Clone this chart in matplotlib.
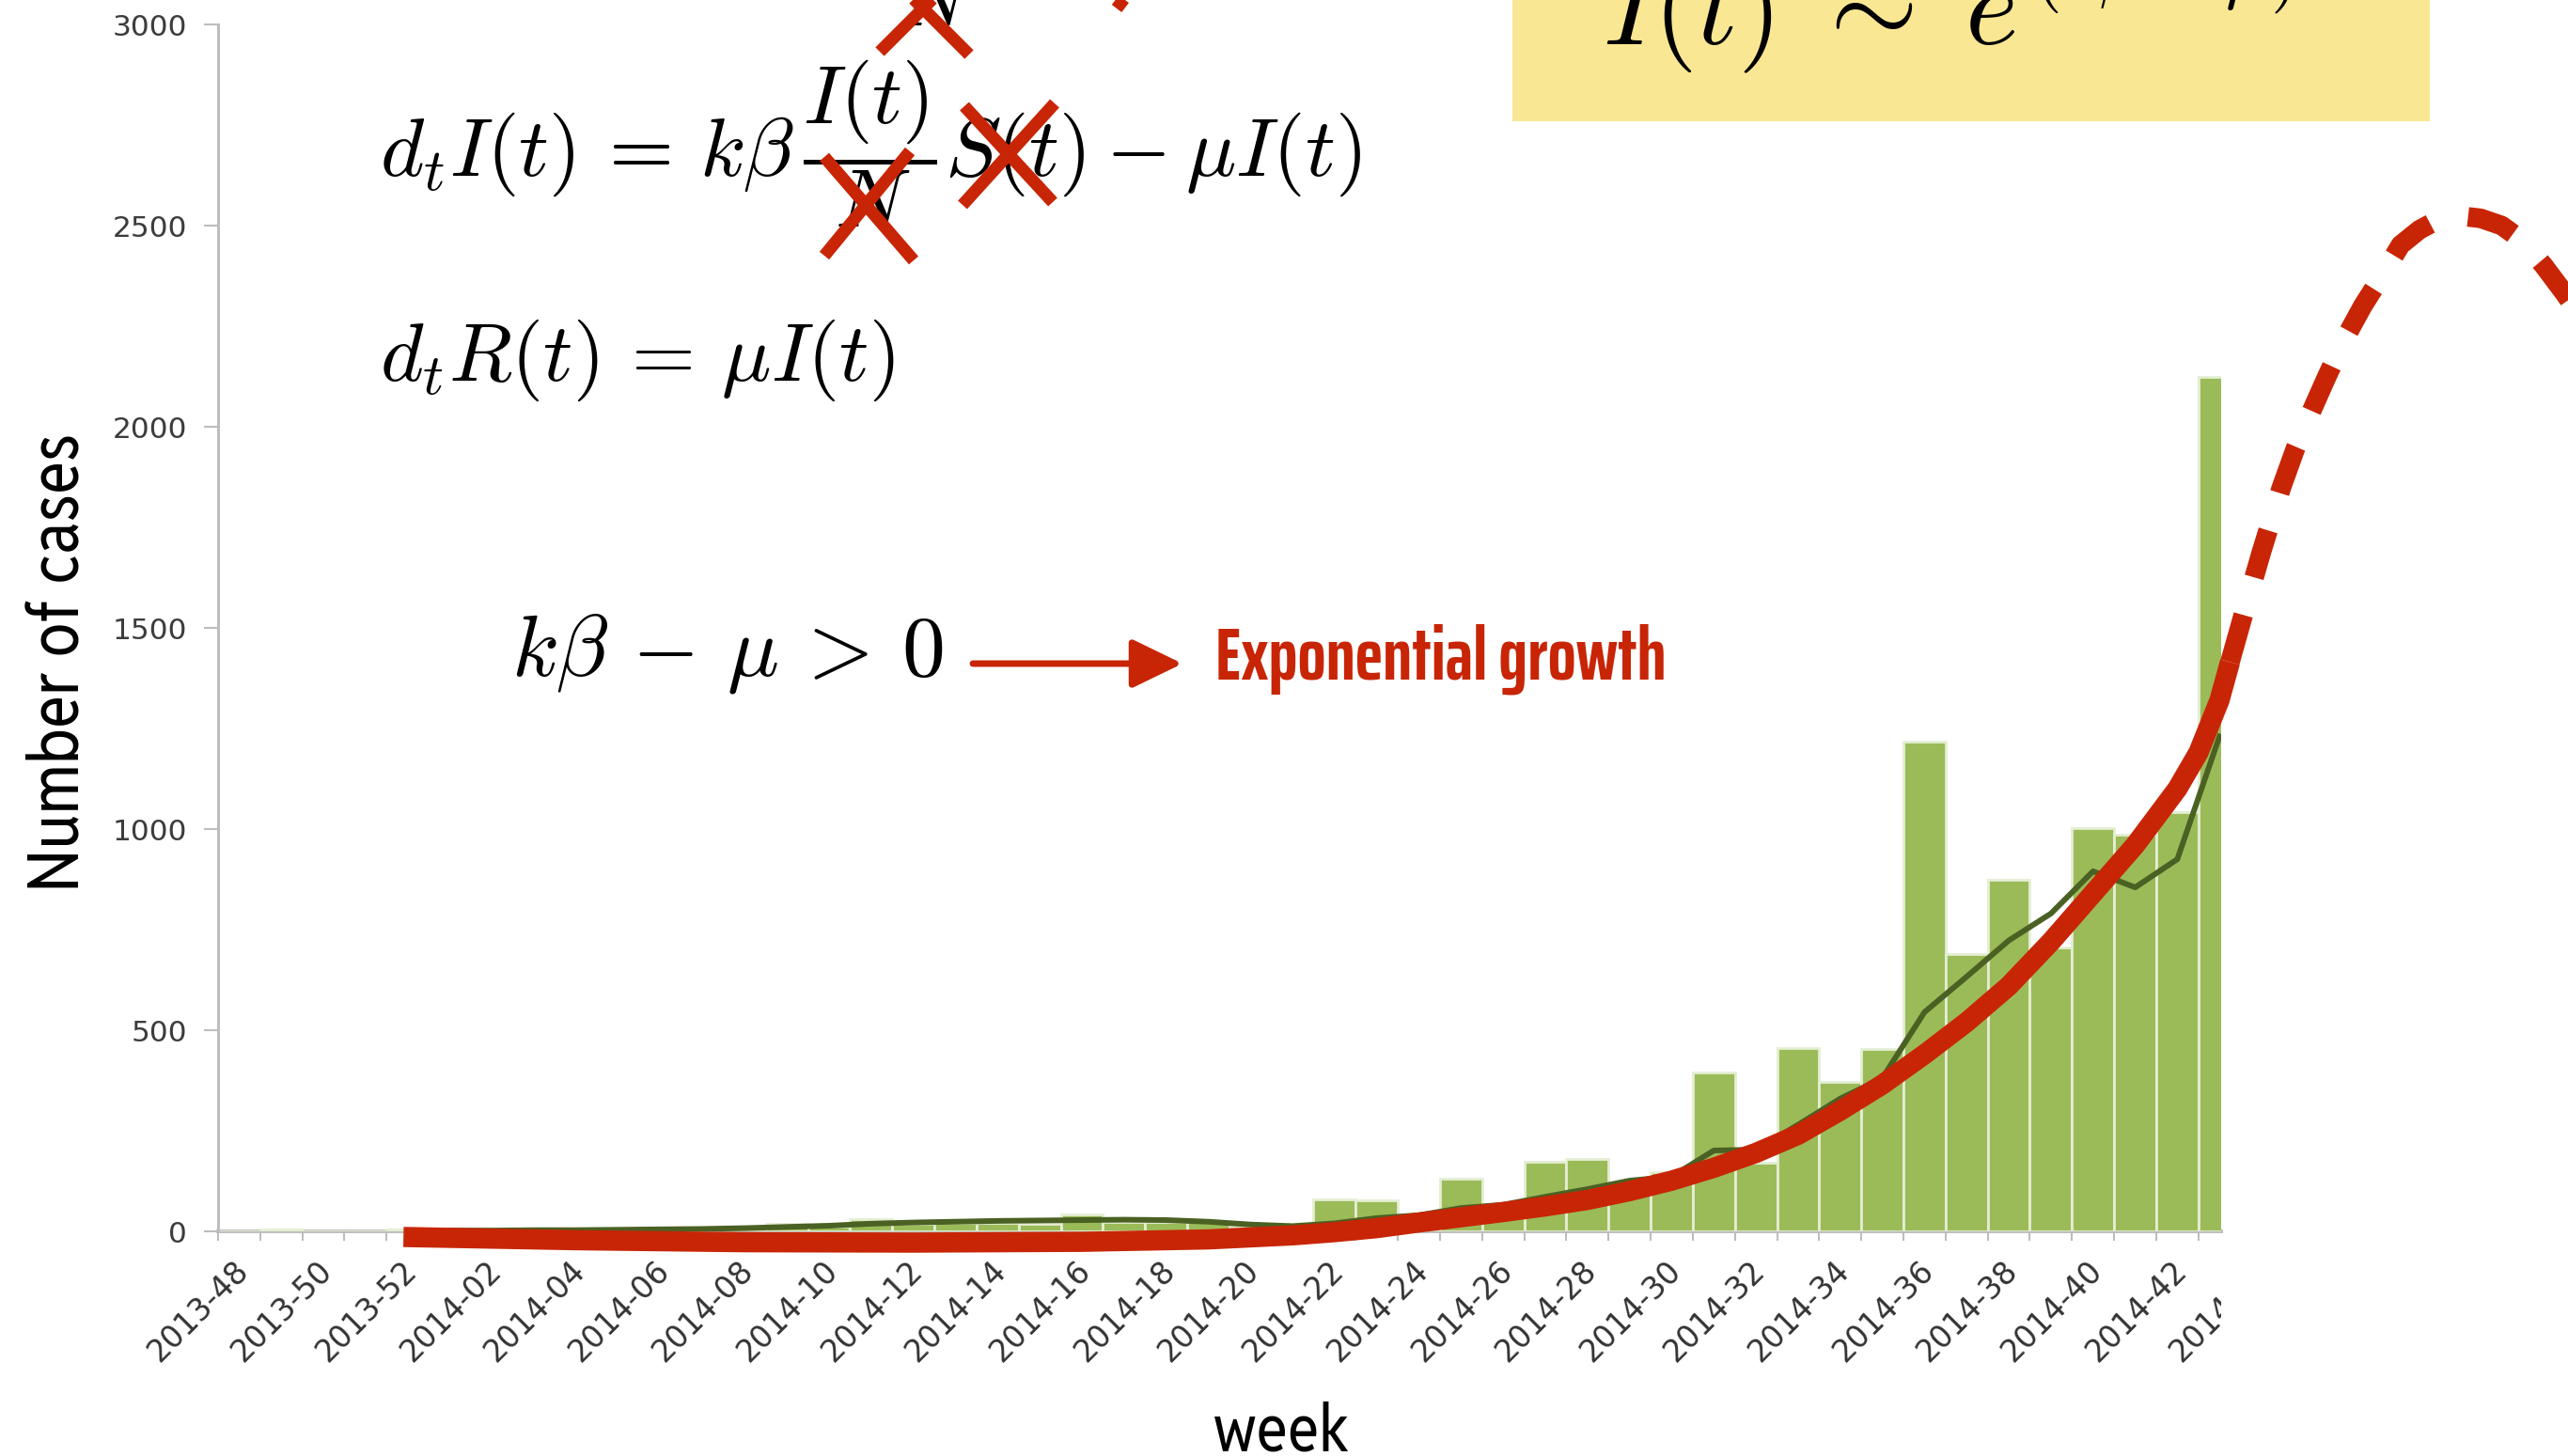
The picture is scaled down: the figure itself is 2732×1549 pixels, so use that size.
import os
import math
import numpy as np
import matplotlib
matplotlib.use("Agg")
import matplotlib.pyplot as plt
from matplotlib import font_manager as fm
from matplotlib.textpath import TextToPath
from matplotlib.lines import Line2D
from matplotlib.patches import Rectangle, FancyArrowPatch, ArrowStyle
from matplotlib.transforms import (Bbox, TransformedBbox, ScaledTranslation,
                                   blended_transform_factory)

plt.rcParams['mathtext.fontset'] = 'cm'
plt.rcParams['font.family'] = ['DejaVu Sans']

# ---------------------------------------------------------------- data
weeks = ['2013-48', '2013-49', '2013-50', '2013-51', '2013-52',
         '2014-01', '2014-02', '2014-03', '2014-04', '2014-05', '2014-06',
         '2014-07', '2014-08', '2014-09', '2014-10', '2014-11', '2014-12',
         '2014-13', '2014-14', '2014-15', '2014-16', '2014-17', '2014-18',
         '2014-19', '2014-20', '2014-21', '2014-22', '2014-23', '2014-24',
         '2014-25', '2014-26', '2014-27', '2014-28', '2014-29', '2014-30',
         '2014-31', '2014-32', '2014-33', '2014-34', '2014-35', '2014-36',
         '2014-37', '2014-38', '2014-39', '2014-40', '2014-41', '2014-42',
         '2014-43']

# weekly number of new cases
cases = [0, 5, 0, 0, 4,
         2, 3, 3, 4, 5, 6, 8, 10, 19, 12, 31, 18, 20, 22, 18, 42, 24, 24,
         24, 12, 14, 79, 78, 40, 130, 60, 174, 180, 100, 148, 395, 171, 455,
         371, 453, 1217, 690, 873, 706, 1002, 985, 1041, 2124]

# running average of the weekly counts
moving_avg = [np.nan, np.nan, np.nan, np.nan, np.nan,
              2, 2, 3, 3, 4, 5, 6, 8, 11, 14, 19, 22, 24, 26, 27, 28, 29, 28,
              24, 17, 13, 20, 33, 40, 58, 66, 86, 105, 126, 136, 201, 203, 265,
              330, 381, 545, 633, 723, 790, 895, 855, 925, 1230]

# week labels shown under the axis (every second week)
tick_labels = ['2013-48', '2013-50', '2013-52', '2014-02', '2014-04',
               '2014-06', '2014-08', '2014-10', '2014-12', '2014-14',
               '2014-16', '2014-18', '2014-20', '2014-22', '2014-24',
               '2014-26', '2014-28', '2014-30', '2014-32', '2014-34',
               '2014-36', '2014-38', '2014-40', '2014-42', '2014-44']

# exponential-growth sketch (week index, cases): solid part over the data
growth_x = [3.9, 8, 12, 16, 20, 23, 25, 26, 27, 28, 29, 30, 31, 32, 33, 34,
            35, 36, 37, 38, 39, 40, 41, 42, 43, 44, 45, 46, 46.5, 47, 47.25]
growth_y = [-14, -22, -27, -28, -26, -20, -10, -2, 8, 22, 35, 48, 62, 78, 100,
            126, 158, 195, 240, 300, 365, 440, 520, 610, 720, 840, 960, 1100,
            1190, 1320, 1415]

# dashed continuation: saturation and decline of the epidemic
future_x = [47.25, 47.6, 48.0, 48.46, 48.8, 49.16, 49.55, 49.94, 50.4, 50.9,
            51.3, 51.75, 52.2, 52.7, 53.2, 53.7, 54.2, 54.7, 55.2, 55.7]
future_y = [1415, 1545, 1690, 1846, 1945, 2033, 2125, 2212, 2300, 2383, 2452,
            2490, 2515, 2524, 2518, 2500, 2462, 2400, 2330, 2255]

# ---------------------------------------------------------------- style
RED = '#c82506'
BAR = '#9bbb59'
BAR_EDGE = '#e4eed3'
AVG = '#4a6123'
AXIS = '#bdbdbd'
YELLOW = '#f9e793'

_t2p = TextToPath()


def _ink(s, prop):
    p = prop.copy()
    p.set_size(100)
    w, h, d = _t2p.get_text_width_height_descent(s, p, ismath=False)
    return w, h


def pick_font(sample, target_w, target_h, hchar, bold):
    """Choose the installed sans face whose proportions best fit the
    given ink width / letter height, preferring narrow faces."""
    cands = [fm.FontProperties(family='DejaVu Sans',
                               weight='bold' if bold else 'normal')]
    seen = set()
    for f in fm.fontManager.ttflist:
        base = os.path.basename(f.fname).lower()
        key = (f.name + ' ' + base + ' ' + str(f.stretch)).lower()
        if not any(s in key for s in ('narrow', 'condensed')):
            continue
        if 'italic' in base or 'oblique' in base or f.style != 'normal':
            continue
        if 'mono' in key or 'serif' in key.replace('sans', ''):
            continue
        w = f.weight if isinstance(f.weight, (int, float)) else \
            {'bold': 700, 'normal': 400, 'regular': 400}.get(str(f.weight).lower(), 400)
        fat = w >= 600 or 'bold' in base
        if fat != bold or any(s in base for s in ('light', 'thin', 'medium',
                                                   'black', 'semibold',
                                                   'extrabold', 'demi')):
            continue
        if f.fname in seen:
            continue
        seen.add(f.fname)
        cands.append(fm.FontProperties(fname=f.fname))
    goal = target_w / target_h
    best, best_err = cands[0], 1e9
    for p in cands:
        try:
            w, _ = _ink(sample, p)
            _, h = _ink(hchar, p)
        except Exception:
            continue
        if w <= 0 or h <= 0:
            continue
        err = abs(math.log((w / h) / goal))
        if err < best_err:
            best, best_err = p, err
    return best


def size_for(sample, prop, target_w, target_h, hchar):
    w, _ = _ink(sample, prop)
    _, h = _ink(hchar, prop)
    s_w = 72.0 * target_w / w * 100 / 100
    s_h = 72.0 * target_h / h
    return math.sqrt(s_w * s_h)


W, H = 2732, 1549
fig = plt.figure(figsize=(W / 100, H / 100), dpi=100)
fig.patch.set_facecolor('white')


def fx(px):
    return px / W


def fy(py):
    return 1 - py / H


ax_left, ax_right = fx(232), fx(2363)
ax_bottom, ax_top = fy(1310), fy(26)
ax = fig.add_axes([ax_left, ax_bottom, ax_right - ax_left, ax_top - ax_bottom])
ax.set_facecolor('none')

x = np.arange(len(weeks))
ax.bar(x, cases, width=1.0, color=BAR, edgecolor=BAR_EDGE, linewidth=2.0,
       zorder=2)
ax.plot(x, moving_avg, color=AVG, lw=4.3, zorder=3, solid_joinstyle='round')

ax.plot(growth_x, growth_y, color=RED, lw=15.5, solid_capstyle='butt',
        zorder=5, clip_on=False)
dashed, = ax.plot(future_x, future_y, color=RED, lw=15, zorder=5,
                  clip_on=False)
dashed.set_dashes((2.5, 2.0))
dashed.set_dash_capstyle('butt')

ax.set_xlim(-0.5, 47.04)
ax.set_ylim(0, 3000)
for side in ('top', 'right'):
    ax.spines[side].set_visible(False)
ax.spines['left'].set_color(AXIS)
ax.spines['left'].set_linewidth(2.2)
ax.spines['bottom'].set_color(AXIS)
ax.spines['bottom'].set_linewidth(2.8)
ax.spines['bottom'].set_zorder(1)

ax.set_yticks(np.arange(0, 3001, 500))
ax.tick_params(axis='y', length=10.5, width=1.5, color=AXIS, pad=13,
               labelsize=22.5, labelcolor='#3c3c3c')
ax.set_xticks([])
ax.set_xticks(np.arange(-0.5, 47.0, 1), minor=True)
ax.tick_params(axis='x', which='minor', length=7.5, width=1.5, color=AXIS)

# rotated week labels, clipped at the right edge of the plot
clip = TransformedBbox(Bbox([[0, 0], [ax_right, 1]]), fig.transFigure)
label_tr = (blended_transform_factory(ax.transData, ax.transAxes)
            + ScaledTranslation(-0.07, -0.25, fig.dpi_scale_trans))
for i, lab in enumerate(tick_labels):
    t = ax.text(2 * i, 0, lab, transform=label_tr, rotation=45,
                rotation_mode='anchor', ha='right', va='top', fontsize=23.5,
                color='#333333', clip_on=True)
    t.set_clip_box(clip)

# axis titles in a narrow face
narrow = pick_font('Number of cases', 488, 53, 'N', bold=False)
fig.text(fx(85), fy(705), 'Number of cases', rotation=90,
         rotation_mode='anchor', ha='center', va='baseline',
         fontproperties=narrow,
         fontsize=size_for('Number of cases', narrow, 488, 53, 'N'),
         color='black')
fig.text(fx(1363), fy(1543), 'week', ha='center', va='baseline',
         fontproperties=narrow,
         fontsize=size_for('week', narrow, 149, 52, 'k'), color='black')

# model equations
fig.text(fx(404), fy(188),
         r'$d_tI(t) \,=\, k\beta\,\dfrac{I(t)}{N}S(t) - \mu I(t)$',
         fontsize=64, ha='left', va='baseline')
fig.text(fx(404), fy(405), r'$d_tR(t) \,=\, \mu I(t)$',
         fontsize=63, ha='left', va='baseline')
fig.text(fx(544), fy(718), r'$k\beta \,-\, \mu \,>\, 0$',
         fontsize=66, ha='left', va='baseline')
fig.text(fx(955), fy(27), r'$N$', fontsize=64, ha='left', va='baseline')

# highlighted solution box
fig.add_artist(Rectangle((fx(1609), fy(129)), fx(2585) - fx(1609),
                         fy(0) - fy(129), transform=fig.transFigure,
                         facecolor=YELLOW, edgecolor='none', zorder=0))
fig.text(fx(1705), fy(47), r'$I(t) \;\sim\; e$', fontsize=87,
         ha='left', va='baseline', zorder=2)
fig.text(fx(2162), fy(-6), r'$(k\beta-\mu)t$', fontsize=57,
         ha='left', va='baseline', zorder=2)


# hand-drawn crosses over the neglected terms
def stroke(x0, y0, x1, y1, lw=9.5):
    fig.add_artist(Line2D([fx(x0), fx(x1)], [fy(y0), fy(y1)],
                          transform=fig.transFigure, color=RED, lw=lw,
                          solid_capstyle='butt', zorder=6))


stroke(877, 167, 972, 277)
stroke(968, 161, 877, 272)
stroke(1026, 113, 1120, 215)
stroke(1122, 110, 1024, 218)
stroke(936, 55, 1036, -45)
stroke(1031, 58, 931, -42)
stroke(1188, 9, 1222, -35)

# arrow to the annotation
fig.add_artist(FancyArrowPatch(
    (fx(1035), fy(706)), (fx(1258), fy(706)), transform=fig.transFigure,
    arrowstyle=ArrowStyle('-|>', head_length=33, head_width=16),
    mutation_scale=1, lw=5, color=RED, shrinkA=0, shrinkB=0, zorder=6))
narrow_bold = pick_font('Exponential growth', 495, 53, 'E', bold=True)
fig.text(fx(1293), fy(723), 'Exponential growth',
         fontproperties=narrow_bold,
         fontsize=size_for('Exponential growth', narrow_bold, 495, 53, 'E'),
         color=RED, ha='left', va='baseline')

fig.savefig('out.png', dpi=100, facecolor='white')
